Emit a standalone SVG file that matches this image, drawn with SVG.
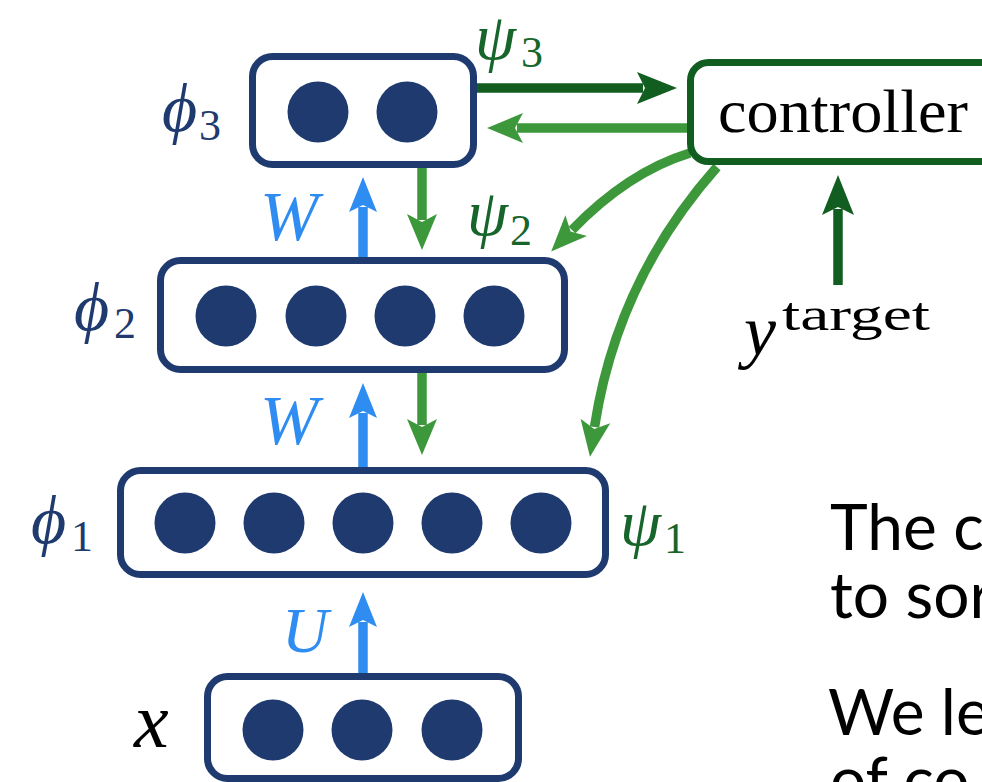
<svg xmlns="http://www.w3.org/2000/svg" width="982" height="782" viewBox="0 0 982 782">
  <style>
    .layer { fill: #ffffff; stroke: #1f3a6f; stroke-width: 7; }
    .unit { fill: #1f3a6f; }
    .ctrl { fill: #ffffff; stroke: #115e20; stroke-width: 7; }
    .wire { fill: none; stroke-width: 9.5; stroke-linecap: butt; }
    .blue { stroke: #2f8cf0; }
    .lg { stroke: #3d983b; }
    .dg { stroke: #115e20; }
    .math { font-family: "Liberation Serif", "DejaVu Serif", serif; font-style: italic; }
    .sub { font-family: "Liberation Serif", "DejaVu Serif", serif; font-style: normal; }
    .navy { fill: #1f3a6f; }
    .psi { fill: #17652a; }
    .wl { fill: #2f8cf0; }
    .body { font-family: Lato, "Open Sans", sans-serif; font-size: 64px; fill: #000; }
  </style>
  <defs>
    <marker id="hb" markerUnits="userSpaceOnUse" markerWidth="60" markerHeight="60" refX="0" refY="0" orient="auto" overflow="visible">
      <path d="M30,0 L-5,-14 L2,0 L-5,14 Z" fill="#2f8cf0"/>
    </marker>
    <marker id="hg" markerUnits="userSpaceOnUse" markerWidth="60" markerHeight="60" refX="0" refY="0" orient="auto" overflow="visible">
      <path d="M30,0 L-6,-15 L2,0 L-6,15 Z" fill="#3d983b"/>
    </marker>
    <marker id="hd" markerUnits="userSpaceOnUse" markerWidth="60" markerHeight="60" refX="0" refY="0" orient="auto" overflow="visible">
      <path d="M34,0 L-6,-16 L2,0 L-6,16 Z" fill="#115e20"/>
    </marker>
  </defs>

  <!-- connectors -->
  <g id="connectors">
    <path class="wire blue" d="M363,257 V207" marker-end="url(#hb)"/>
    <path class="wire blue" d="M363,467 V413" marker-end="url(#hb)"/>
    <path class="wire blue" d="M363,673 V622" marker-end="url(#hb)"/>
    <path class="wire lg" d="M422,168 V220" marker-end="url(#hg)"/>
    <path class="wire lg" d="M422,373 V425" marker-end="url(#hg)"/>
    <path class="wire dg" d="M477,88 H643" marker-end="url(#hd)"/>
    <path class="wire lg" d="M687,128 H517" marker-end="url(#hg)"/>
    <path class="wire dg" d="M838,285 V209" marker-end="url(#hd)"/>
    <path class="wire lg" d="M690,153 Q628,172 572,230" marker-end="url(#hg)"/>
    <path class="wire lg" d="M717,167 Q617,280 594.5,427" marker-end="url(#hg)"/>
  </g>

  <!-- layer phi3 -->
  <g id="phi3">
    <rect class="layer" x="252.5" y="56.5" width="221" height="108" rx="20"/>
    <circle class="unit" cx="318" cy="112" r="30.5"/>
    <circle class="unit" cx="407" cy="112" r="30.5"/>
    <text class="math navy" x="162" y="131" font-size="68">ϕ<tspan class="sub" font-size="44" x="199" y="140">3</tspan></text>
  </g>

  <!-- layer phi2 -->
  <g id="phi2">
    <rect class="layer" x="160.5" y="260.5" width="404" height="109" rx="20"/>
    <circle class="unit" cx="226" cy="316" r="30.5"/>
    <circle class="unit" cx="316" cy="316" r="30.5"/>
    <circle class="unit" cx="405" cy="316" r="30.5"/>
    <circle class="unit" cx="494" cy="316" r="30.5"/>
    <text class="math navy" x="74" y="330" font-size="68">ϕ<tspan class="sub" font-size="44" x="114" y="338">2</tspan></text>
  </g>

  <!-- layer phi1 -->
  <g id="phi1">
    <rect class="layer" x="120.5" y="470.5" width="485" height="104" rx="20"/>
    <circle class="unit" cx="185" cy="523" r="30.5"/>
    <circle class="unit" cx="274" cy="523" r="30.5"/>
    <circle class="unit" cx="363" cy="523" r="30.5"/>
    <circle class="unit" cx="452" cy="523" r="30.5"/>
    <circle class="unit" cx="541" cy="523" r="30.5"/>
    <text class="math navy" x="31" y="543" font-size="68">ϕ<tspan class="sub" font-size="44" x="71" y="551">1</tspan></text>
  </g>

  <!-- input x -->
  <g id="input">
    <rect class="layer" x="207.5" y="676.5" width="311" height="102" rx="20"/>
    <circle class="unit" cx="273" cy="730" r="30.5"/>
    <circle class="unit" cx="362" cy="730" r="30.5"/>
    <circle class="unit" cx="452" cy="730" r="30.5"/>
    <text class="math" x="134" y="747" font-size="78" fill="#000">x</text>
  </g>

  <!-- controller -->
  <g id="controller">
    <rect class="ctrl" x="690.5" y="62.5" width="320" height="99" rx="18"/>
    <text x="718" y="132" font-family="Liberation Serif, DejaVu Serif, serif" font-size="62" textLength="250" lengthAdjust="spacingAndGlyphs" fill="#000">controller</text>
  </g>

  <!-- target -->
  <g id="target">
    <text class="math" x="744" y="355" font-size="72" fill="#000">y</text>
    <text class="sub" x="782" y="330" font-size="46" textLength="148" lengthAdjust="spacingAndGlyphs" fill="#000">target</text>
  </g>

  <!-- weight and signal labels -->
  <g id="labels">
    <text class="math wl" x="260" y="240" font-size="70">W</text>
    <text class="math wl" x="260" y="444" font-size="70">W</text>
    <text class="math wl" x="282" y="652" font-size="64">U</text>
    <text class="math psi" x="475" y="59" font-size="66">ψ<tspan class="sub" font-size="44" x="521" y="67">3</tspan></text>
    <text class="math psi" x="467" y="235" font-size="66">ψ<tspan class="sub" font-size="44" x="510" y="245">2</tspan></text>
    <text class="math psi" x="620" y="545" font-size="66">ψ<tspan class="sub" font-size="44" x="664" y="553">1</tspan></text>
  </g>

  <!-- side text -->
  <g id="caption">
    <text class="body" x="830" y="550">The c</text>
    <text class="body" x="830" y="618">to sor</text>
    <text class="body" x="828" y="735">We le</text>
    <text class="body" x="830" y="803">of co</text>
  </g>
</svg>
